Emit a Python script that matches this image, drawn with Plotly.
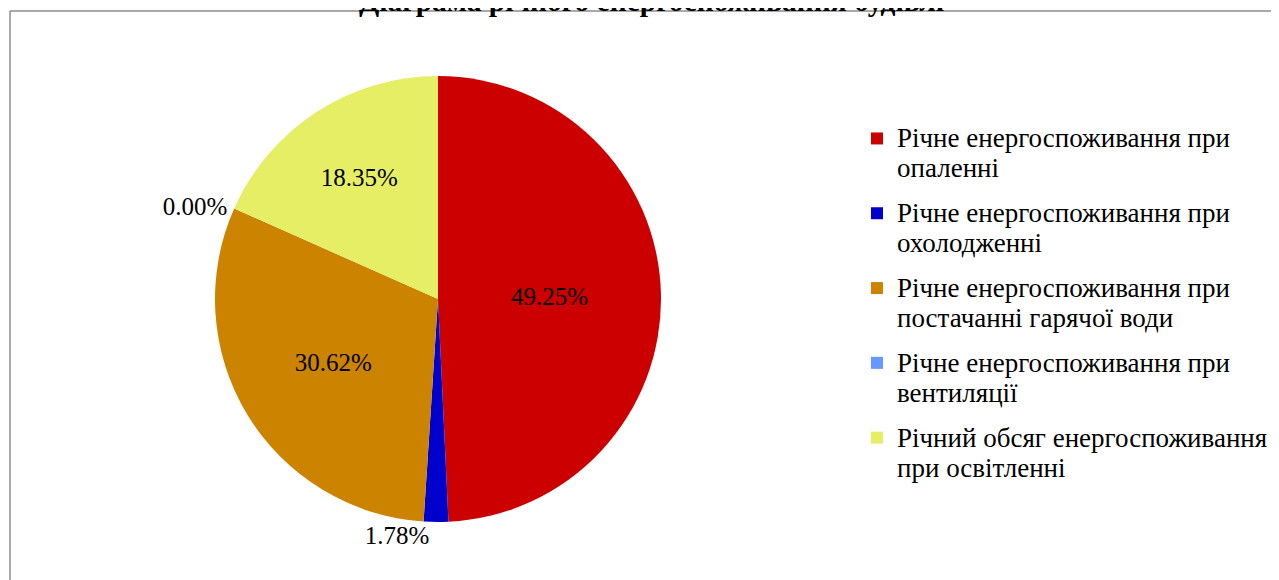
import plotly.graph_objects as go

title_text = "Діаграма річного енергоспоживання будівлі"
labels = [
    "Річне енергоспоживання при<br>опаленні",
    "Річне енергоспоживання при<br>охолодженні",
    "Річне енергоспоживання при<br>постачанні гарячої води",
    "Річне енергоспоживання при<br>вентиляції",
    "Річний обсяг енергоспоживання<br>при освітленні",
]
values = [49.25, 1.78, 30.62, 0.00, 18.35]
colors = ["#CC0000", "#0000CC", "#CC8400", "#6699FF", "#E6EE66"]
text_positions = ["inside", "outside", "inside", "outside", "inside"]

W, H = 1279, 580
FONT = "Liberation Serif, Times New Roman, serif"
OFF = 8  # page body margin


def big(s, px=27):
    return "<br>".join(f'<span style="font-size:{px}px">{p}</span>' for p in s.split("<br>"))


fig = go.Figure()
fig.add_trace(go.Pie(
    labels=labels,
    values=values,
    sort=False,
    direction="clockwise",
    rotation=0,
    marker=dict(colors=colors, line=dict(width=0)),
    texttemplate="%{percent:.2%}",
    textposition=text_positions,
    insidetextorientation="horizontal",
    textfont=dict(family=FONT, size=25, color="black"),
    domain=dict(x=[(215 - OFF) / W, (661 - OFF) / W],
                y=[(H - 522 + OFF) / H, (H - 76 + OFF) / H]),
    showlegend=False,
    hoverinfo="label+percent",
))

# legend entries (one per slice) so that each gets its own group gap
for i, (lab, col) in enumerate(zip(labels, colors)):
    fig.add_trace(go.Scatter(
        x=[None], y=[None], mode="markers", name=big(lab),
        marker=dict(symbol="square", size=12, color=col),
        legendgroup=f"g{i}", showlegend=True, hoverinfo="skip",
    ))

fig.update_layout(
    width=W, height=H,
    margin=dict(l=0, r=0, t=0, b=0),
    paper_bgcolor="white",
    plot_bgcolor="white",
    font=dict(family=FONT, color="black"),
    showlegend=True,
    xaxis=dict(visible=False),
    yaxis=dict(visible=False),
    legend=dict(
        x=849 / W, xanchor="left",
        y=(H - 109) / H, yanchor="top",
        font=dict(family=FONT, size=23, color="black"),
        valign="top",
        bgcolor="rgba(0,0,0,0)",
        traceorder="grouped",
        tracegroupgap=12,
        itemclick=False, itemdoubleclick=False,
    ),
    shapes=[
        dict(type="line", xref="paper", yref="paper",
             x0=(10 - OFF) / W, x1=1.0, y0=(H - 11 + OFF) / H, y1=(H - 11 + OFF) / H,
             line=dict(color="#8c8c8c", width=1.5)),
        dict(type="line", xref="paper", yref="paper",
             x0=(10 - OFF) / W, x1=(10 - OFF) / W, y0=0, y1=(H - 11 + OFF) / H,
             line=dict(color="#8c8c8c", width=1.5)),
    ],
    annotations=[
        dict(text="<b>" + title_text + "</b>", xref="paper", yref="paper",
             x=(651 - OFF) / W, y=(H - 11) / H, xanchor="center", yanchor="bottom",
             showarrow=False, font=dict(family=FONT, size=29.5, color="black")),
    ],
)

fig.write_html("out.html")
